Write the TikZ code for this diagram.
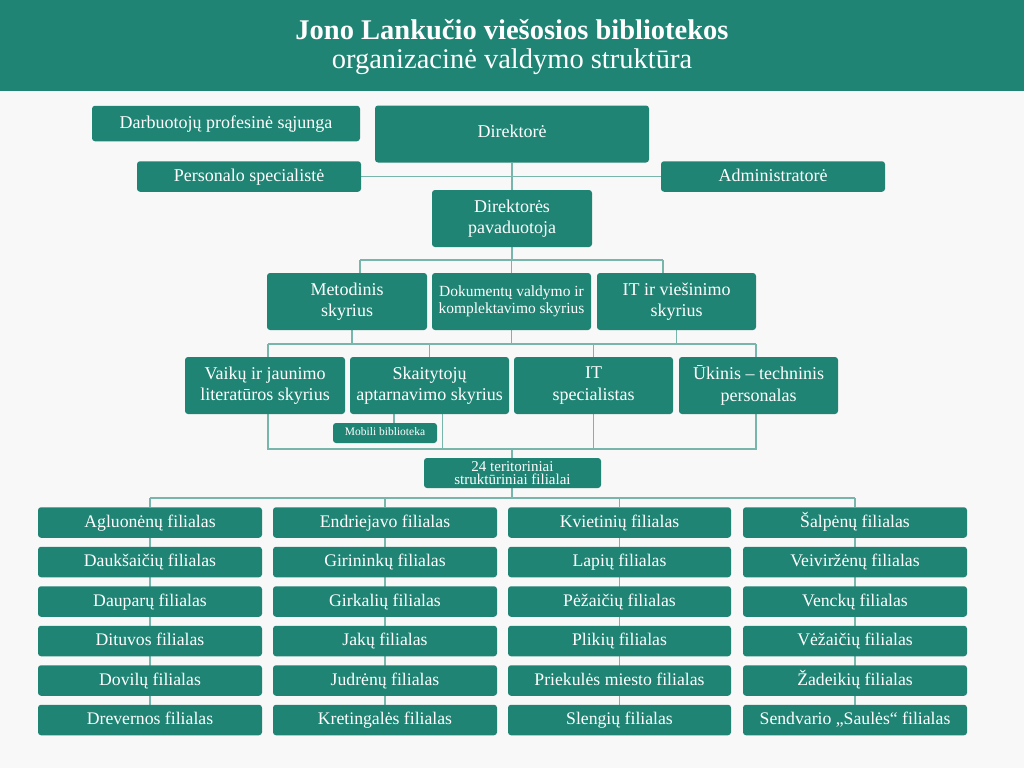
\documentclass[tikz,border=0pt]{standalone}
\usepackage{fontspec}
\setmainfont{Liberation Serif}
\definecolor{boxC}{HTML}{1F8474}
\definecolor{lineC}{HTML}{78B6AC}
\definecolor{bgC}{HTML}{F8F8F8}
\pgfdeclarelayer{bg}
\pgfsetlayers{bg,main}
\begin{document}
\begin{tikzpicture}[x=1pt,y=-1pt,
  box/.style={fill=boxC, rounded corners=3pt, text=white, inner sep=0pt, align=center, font=\fontsize{18}{21.5}\selectfont},
  oneline/.style={text height=13pt, text depth=4pt},
  conn/.style={draw=lineC, line width=1.5pt},
  fil/.style={box, oneline, minimum width=224pt, minimum height=30.5pt, font=\fontsize{17.7}{20}\selectfont},
  ttl/.style={anchor=base, text=white, inner sep=0pt}]
\useasboundingbox (0,0) rectangle (1024,768);
\begin{pgfonlayer}{bg}
\fill[bgC] (0,0) rectangle (1024,768);
\end{pgfonlayer}
% header
\fill[boxC] (0,0) rectangle (1024,90.5);
\node[ttl, font=\bfseries\fontsize{28.5}{30}\selectfont] (t1) at (512,39.5) {Jono Lankučio viešosios bibliotekos};
\node[ttl, font=\fontsize{28.5}{30}\selectfont] (t2) at (512,68.5) {organizacinė valdymo struktūra};
% top
\node[box, oneline, minimum width=268pt, minimum height=35.5pt] (union) at (226,123.5) {Darbuotojų profesinė sąjunga};
\node[box, text height=13pt, text depth=5.5pt, minimum width=274pt, minimum height=57pt] (dir) at (512,134) {Direktorė};
\node[box, oneline, minimum width=224pt, minimum height=30.5pt] (pers) at (249,176.5) {Personalo specialistė};
\node[box, oneline, minimum width=224pt, minimum height=30.5pt] (admin) at (773,176.5) {Administratorė};
\node[box, minimum width=160pt, minimum height=57pt] (pav) at (512,218.5) {Direktorės\\pavaduotoja};
% level 2
\node[box, minimum width=160pt, minimum height=57pt] (metod) at (347,301.5) {Metodinis\\skyrius};
\node[box, minimum width=159pt, minimum height=57pt, font=\fontsize{15.5}{17.5}\selectfont] (dok) at (511.5,301.5) {Dokumentų valdymo ir\\komplektavimo skyrius};
\node[box, minimum width=159pt, minimum height=57pt] (itv) at (676.5,301.5) {IT ir viešinimo\\skyrius};
% level 3
\node[box, minimum width=160pt, minimum height=57pt] (vaik) at (265,385.5) {Vaikų ir jaunimo\\literatūros skyrius};
\node[box, minimum width=159pt, minimum height=57pt] (skait) at (429.5,385.5) {Skaitytojų\\aptarnavimo skyrius};
\node[box, minimum width=159pt, minimum height=57pt] (itsp) at (593.5,385.5) {IT\\specialistas};
\node[box, minimum width=159pt, minimum height=57pt] (ukis) at (758.5,385.5) {Ūkinis – techninis\\personalas};
\node[box, text height=8.5pt, text depth=4pt, minimum width=104pt, minimum height=20pt, font=\fontsize{11.5}{13}\selectfont] (mob) at (385,433) {Mobili biblioteka};
\node[box, minimum width=177pt, minimum height=30pt, font=\fontsize{15}{13.5}\selectfont] (ter) at (512.5,473) {24 teritoriniai\\struktūriniai filialai};
% branches
\foreach \n [count=\i] in {Agluonėnų,Daukšaičių,Dauparų,Dituvos,Dovilų,Drevernos}
  \node[fil] (a\i) at (150,{522.5+39.5*(\i-1)}) {\n{} filialas};
\foreach \n [count=\i] in {Endriejavo,Girininkų,Girkalių,Jakų,Judrėnų,Kretingalės}
  \node[fil] (b\i) at (385,{522.5+39.5*(\i-1)}) {\n{} filialas};
\foreach \n [count=\i] in {Kvietinių,Lapių,Pėžaičių,Plikių,Priekulės miesto,Slengių}
  \node[fil, minimum width=223pt] (c\i) at (619.5,{522.5+39.5*(\i-1)}) {\n{} filialas};
\foreach \n [count=\i] in {Šalpėnų,Veiviržėnų,Venckų,Vėžaičių,Žadeikių,Sendvario „Saulės“}
  \node[fil] (d\i) at (855,{522.5+39.5*(\i-1)}) {\n{} filialas};
% junction coordinates
\coordinate (hl1) at (512,260);
\coordinate (hl2) at (512,344);
\coordinate (hl3) at (512,449);
\coordinate (hl4) at (512,498);
\begin{pgfonlayer}{bg}
% top
\draw[conn] (dir.south) -- (pav.north);
\draw[conn] (pers.east) -- (admin.west);
% level 1 -> 2
\draw[conn] (pav.south) -- (hl1);
\draw[conn] ([xshift=13pt]metod.north |- hl1) -- ([xshift=-13.5pt]itv.north |- hl1);
\draw[conn] ([xshift=13pt]metod.north |- hl1) -- ([xshift=13pt]metod.north);
\draw[conn] ([xshift=-13.5pt]itv.north |- hl1) -- ([xshift=-13.5pt]itv.north);
\draw[conn] (dok.north |- hl1) -- (dok.north);
% level 2 -> 3
\draw[conn] ([xshift=5pt]metod.south) -- ([xshift=5pt]metod.south |- hl2);
\draw[conn] (dok.south) -- (dok.south |- hl2);
\draw[conn] (itv.south) -- (itv.south |- hl2);
\draw[conn] ([xshift=3pt]vaik.north |- hl2) -- ([xshift=-2.5pt]ukis.north |- hl2);
\draw[conn] ([xshift=3pt]vaik.north |- hl2) -- ([xshift=3pt]vaik.north);
\draw[conn] (skait.north |- hl2) -- (skait.north);
\draw[conn] (itsp.north |- hl2) -- (itsp.north);
\draw[conn] ([xshift=-2.5pt]ukis.north |- hl2) -- ([xshift=-2.5pt]ukis.north);
% level 3 -> filialai
\draw[conn] ([xshift=3pt]vaik.south) -- ([xshift=3pt]vaik.south |- hl3) -- ([xshift=-2.5pt]ukis.south |- hl3) -- ([xshift=-2.5pt]ukis.south);
\draw[conn] ([xshift=-35.5pt]skait.south) -- ([xshift=-35.5pt]skait.south |- mob.north);
\draw[conn] ([xshift=13pt]skait.south) -- ([xshift=13pt]skait.south |- hl3);
\draw[conn] (itsp.south) -- (itsp.south |- hl3);
\draw[conn] (ter.north -| hl3) -- (hl3);
% filialai -> branches
\draw[conn] (ter.south -| hl4) -- (hl4);
\draw[conn] (a1.north |- hl4) -- (d1.north |- hl4);
\draw[conn] (a1.north |- hl4) -- (a1.north);
\draw[conn] (b1.north |- hl4) -- (b1.north);
\draw[conn] (c1.north |- hl4) -- (c1.north);
\draw[conn] (d1.north |- hl4) -- (d1.north);
\draw[conn] (a1.center) -- (a6.center);
\draw[conn] (b1.center) -- (b6.center);
\draw[conn] (c1.center) -- (c6.center);
\draw[conn] (d1.center) -- (d6.center);
\end{pgfonlayer}
\end{tikzpicture}
\end{document}
